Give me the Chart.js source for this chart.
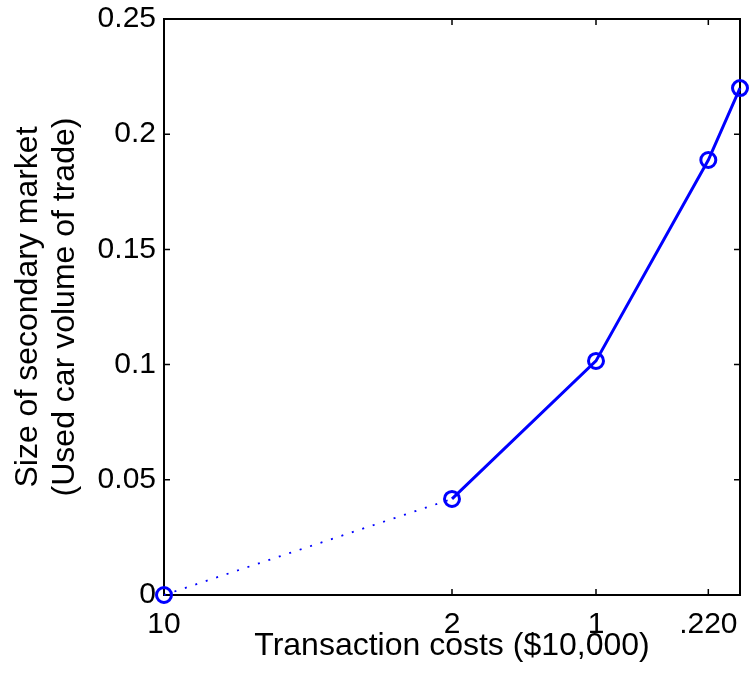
<!DOCTYPE html>
<html>
<head>
<meta charset="utf-8">
<script src="https://cdn.jsdelivr.net/npm/chart.js@4/dist/chart.umd.min.js"></script>
<style>
  html, body { margin: 0; padding: 0; background: #fff; }
  canvas { display: block; }
</style>
</head>
<body>
<canvas id="marketChart" width="754" height="682"></canvas>
<script>
// Transaction-cost axis is not linear, so points sit at read-off positions (0..1 across the box)
const xPositions  = [0, 0.5, 0.75, 0.945, 1];
const marketSize  = [0, 0.0417, 0.1016, 0.1888, 0.22];
const xTickPos    = [0, 0.5, 0.75, 0.945];
const xTickLabels = ['10', '2', '1', '.220'];

const BLUE = '#0000ff';
const FONT = "'Liberation Sans', Arial, Helvetica, sans-serif";

// Box round the plot plus small inward ticks on all four sides (MATLAB look)
const boxAndTicks = {
    id: 'boxAndTicks',
    beforeDatasetsDraw(chart) {
        const { ctx, chartArea: a, scales } = chart;
        ctx.save();
        ctx.strokeStyle = '#000';
        ctx.lineWidth = 2;
        ctx.strokeRect(a.left, a.top, a.right - a.left, a.bottom - a.top);

        ctx.lineWidth = 1.5;
        const len = 6;
        ctx.beginPath();
        scales.x.ticks.forEach(t => {
            const px = scales.x.getPixelForValue(t.value);
            if (px <= a.left + 1 || px >= a.right - 1) return;
            ctx.moveTo(px, a.bottom); ctx.lineTo(px, a.bottom - len);
            ctx.moveTo(px, a.top);    ctx.lineTo(px, a.top + len);
        });
        scales.y.ticks.forEach(t => {
            const py = scales.y.getPixelForValue(t.value);
            if (py <= a.top + 1 || py >= a.bottom - 1) return;
            ctx.moveTo(a.left, py);  ctx.lineTo(a.left + len, py);
            ctx.moveTo(a.right, py); ctx.lineTo(a.right - len, py);
        });
        ctx.stroke();
        ctx.restore();
    }
};

new Chart(document.getElementById('marketChart'), {
    type: 'line',
    data: {
        datasets: [{
            data: xPositions.map((x, i) => ({ x: x, y: marketSize[i] })),
            borderColor: BLUE,
            borderWidth: 3,
            pointStyle: 'circle',
            pointRadius: 7.5,
            pointBorderWidth: 3,
            pointBorderColor: BLUE,
            pointBackgroundColor: 'rgba(0,0,0,0)',
            tension: 0,
            clip: false,
            // first leg (off-scale 10 -> 2) is dotted
            segment: {
                borderDash: ctx => ctx.p0DataIndex === 0 ? [2, 9] : undefined,
                borderWidth: ctx => ctx.p0DataIndex === 0 ? 1.8 : undefined
            }
        }]
    },
    options: {
        responsive: false,
        animation: false,
        layout: { padding: { top: 19, right: 14, left: 0, bottom: 0 } },
        plugins: { legend: { display: false }, tooltip: { enabled: false } },
        scales: {
            x: {
                type: 'linear',
                min: 0,
                max: 1,
                grid: { display: false, drawTicks: false },
                border: { display: false },
                afterBuildTicks: scale => { scale.ticks = xTickPos.map(v => ({ value: v })); },
                afterFit: scale => { scale.height = 87; },
                ticks: {
                    autoSkip: false,
                    maxRotation: 0,
                    padding: 12,
                    color: '#000',
                    font: { family: FONT, size: 30 },
                    callback: (v, i) => xTickLabels[i]
                },
                title: {
                    display: true,
                    text: 'Transaction costs ($10,000)',
                    color: '#000',
                    font: { family: FONT, size: 32, lineHeight: 1.15 },
                    padding: { top: 0, bottom: 17 }
                }
            },
            y: {
                min: 0,
                max: 0.25,
                grid: { display: false, drawTicks: false },
                border: { display: false },
                afterFit: scale => {
                    scale.width = 164;
                    scale.paddingTop = 0;
                    scale.paddingBottom = 0;
                },
                ticks: {
                    stepSize: 0.05,
                    padding: 8,
                    color: '#000',
                    font: { family: FONT, size: 30 },
                    callback: v => String(+v.toFixed(2))
                },
                title: {
                    display: true,
                    text: ['Size of secondary market', '(Used car volume of trade)'],
                    color: '#000',
                    font: { family: FONT, size: 32, lineHeight: 1.15 },
                    padding: { top: 10, bottom: 0 }
                }
            }
        }
    },
    plugins: [boxAndTicks]
});
</script>
</body>
</html>
